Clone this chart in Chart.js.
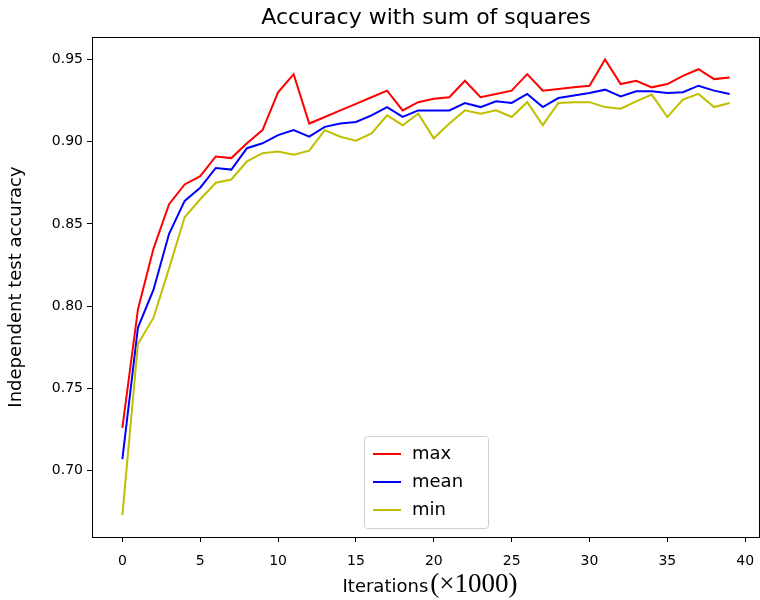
<!DOCTYPE html>
<html>
<head>
<meta charset="utf-8">
<script src="https://cdn.jsdelivr.net/npm/chart.js@4.4.0/dist/chart.umd.min.js"></script>
<style>
  body { margin: 0; background: #fff; }
  #wrap { width: 760px; height: 600px; }
</style>
</head>
<body>
<div id="wrap"><canvas id="mycanvas"></canvas></div>
<script>
// values
var iterations = [0, 1, 2, 3, 4, 5, 6, 7, 8, 9, 10, 11, 12, 13, 14, 15, 16, 17, 18, 19,
                  20, 21, 22, 23, 24, 25, 26, 27, 28, 29, 30, 31, 32, 33, 34, 35, 36, 37, 38, 39];
var maxAcc = [0.726, 0.798, 0.835, 0.862, 0.874, 0.879, 0.891, 0.890, 0.899, 0.907,
              0.930, 0.941, 0.911, 0.915, 0.919, 0.923, 0.927, 0.931, 0.919, 0.924,
              0.926, 0.927, 0.937, 0.927, 0.929, 0.931, 0.941, 0.931, 0.932, 0.933,
              0.934, 0.950, 0.935, 0.937, 0.933, 0.935, 0.940, 0.944, 0.938, 0.939];
var meanAcc = [0.707, 0.787, 0.810, 0.844, 0.864, 0.872, 0.884, 0.883, 0.896, 0.899,
               0.904, 0.907, 0.903, 0.909, 0.911, 0.912, 0.916, 0.921, 0.915, 0.919,
               0.919, 0.919, 0.9235, 0.921, 0.9245, 0.9235, 0.929, 0.921, 0.9265, 0.928,
               0.9296, 0.9316, 0.9275, 0.9306, 0.9306, 0.9296, 0.930, 0.934, 0.931, 0.929];
var minAcc = [0.673, 0.777, 0.793, 0.823, 0.854, 0.865, 0.875, 0.877, 0.888, 0.893,
              0.894, 0.892, 0.8945, 0.907, 0.903, 0.9006, 0.905, 0.916, 0.910, 0.917,
              0.902, 0.911, 0.919, 0.917, 0.919, 0.915, 0.924, 0.910, 0.9235, 0.924,
              0.924, 0.921, 0.920, 0.9245, 0.9286, 0.915, 0.9255, 0.929, 0.921, 0.9235];
var xTicks = [0, 5, 10, 15, 20, 25, 30, 35, 40];
var yTicks = [0.70, 0.75, 0.80, 0.85, 0.90, 0.95];

function pts(vals) {
  return iterations.map(function (x, i) { return { x: x, y: vals[i] }; });
}

var font = "'DejaVu Sans', sans-serif";

// box round the plot, legend in the lower middle, x title with math part
var extras = {
  id: 'extras',
  afterDraw: function (chart) {
    var c = chart.ctx, a = chart.chartArea;
    c.save();
    c.strokeStyle = '#000';
    c.lineWidth = 1;
    c.strokeRect(Math.round(a.left) + 0.5, Math.round(a.top) + 0.5,
                 Math.round(a.right - a.left) - 1, Math.round(a.bottom - a.top));

    // legend
    var bx = 364.5, by = 436.5, bw = 124, bh = 92;
    c.fillStyle = 'rgba(255,255,255,0.8)';
    c.strokeStyle = '#d0d0d0';
    c.beginPath();
    c.roundRect(bx, by, bw, bh, 3);
    c.fill();
    c.stroke();
    c.font = '18px ' + font;
    c.textBaseline = 'middle';
    chart.data.datasets.forEach(function (ds, i) {
      var y = 454 + i * 28;
      c.strokeStyle = ds.borderColor;
      c.lineWidth = 2;
      c.beginPath();
      c.moveTo(373, y);
      c.lineTo(401, y);
      c.stroke();
      c.fillStyle = '#000';
      c.fillText(ds.label, 412, y);
    });

    // x title
    var t1 = 'Iterations', t2 = '(\u00d71000)';
    var f1 = '18px ' + font, f2 = "27px 'Liberation Serif', serif";
    c.font = f1;
    var w1 = c.measureText(t1).width;
    c.font = f2;
    var w2 = c.measureText(t2).width;
    var cx = (a.left + a.right) / 2 + 4;
    var x0 = cx - (w1 + 2 + w2) / 2;
    c.textBaseline = 'alphabetic';
    c.fillStyle = '#000';
    c.font = f1;
    c.fillText(t1, x0, 592);
    c.font = f2;
    c.fillText(t2, x0 + w1 + 2, 592);
    c.restore();
  }
};

var chartdata = {
  datasets: [
    { label: 'max', data: pts(maxAcc), borderColor: '#ff0000', order: 2 },
    { label: 'mean', data: pts(meanAcc), borderColor: '#0000ff', order: 1 },
    { label: 'min', data: pts(minAcc), borderColor: '#bfbf00', order: 0 }
  ]
};

var ctx = document.getElementById('mycanvas');
var lineGraph = new Chart(ctx, {
  type: 'line',
  data: chartdata,
  plugins: [extras],
  options: {
    responsive: true,
    maintainAspectRatio: false,
    animation: false,
    layout: { padding: 0 },
    elements: {
      line: { borderWidth: 2, tension: 0, fill: false },
      point: { radius: 0 }
    },
    plugins: {
      legend: { display: false },
      tooltip: { enabled: false },
      title: {
        display: true,
        text: 'Accuracy with sum of squares',
        fullSize: false,
        color: '#000',
        font: { family: font, size: 22, weight: 'normal' },
        padding: { top: 5, bottom: 5.6 }
      }
    },
    scales: {
      x: {
        type: 'linear',
        min: -1.95,
        max: 40.95,
        afterFit: function (s) { s.height = 63; s.paddingLeft = 0; s.paddingRight = 0; },
        afterBuildTicks: function (s) { s.ticks = xTicks.map(function (v) { return { value: v }; }); },
        border: { display: false },
        grid: { drawOnChartArea: false, drawTicks: true, tickLength: 5, color: '#000' },
        ticks: {
          color: '#000', padding: 11, maxRotation: 0,
          font: { family: font, size: 14 },
          callback: function (v) { return String(v); }
        }
      },
      y: {
        type: 'linear',
        min: 0.6597,
        max: 0.9636,
        afterFit: function (s) { s.width = 92; s.paddingTop = 0; s.paddingBottom = 0; },
        afterBuildTicks: function (s) { s.ticks = yTicks.map(function (v) { return { value: v }; }); },
        border: { display: false },
        grid: { drawOnChartArea: false, drawTicks: true, tickLength: 5, color: '#000' },
        title: {
          display: true,
          text: 'Independent test accuracy',
          color: '#000',
          font: { family: font, size: 18 },
          padding: { top: 6, bottom: 0 }
        },
        ticks: {
          color: '#000', padding: 4,
          font: { family: font, size: 14 },
          callback: function (v) { return v.toFixed(2); }
        }
      }
    }
  }
});
</script>
</body>
</html>
